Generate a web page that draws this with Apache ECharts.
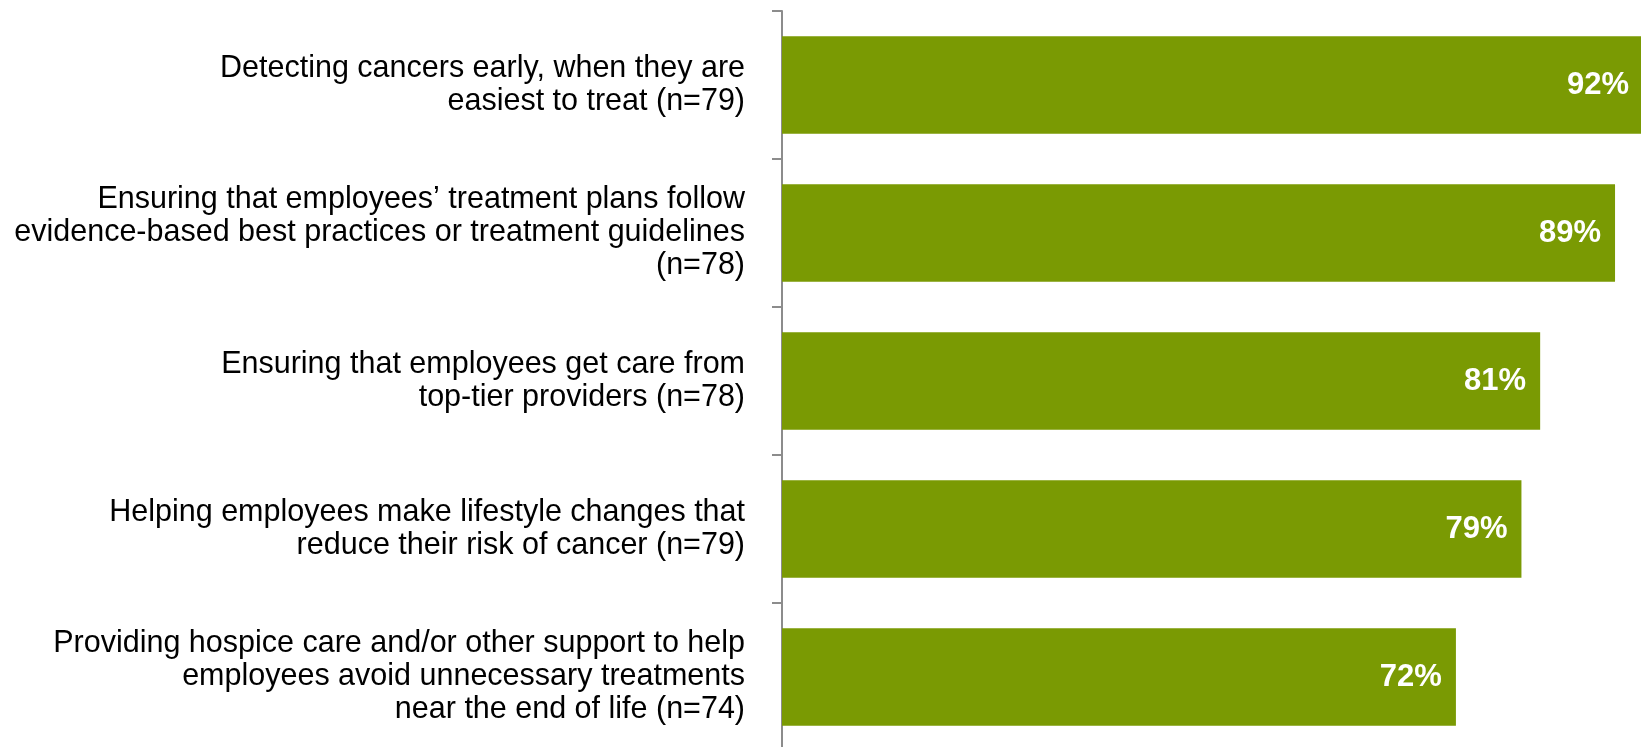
<!DOCTYPE html>
<html>
<head>
<meta charset="utf-8">
<script src="https://cdn.jsdelivr.net/npm/echarts@6/dist/echarts.min.js"></script>
<style>
  html, body { margin: 0; padding: 0; background: #ffffff; }
  #chart { width: 1641px; height: 747px; }
</style>
</head>
<body>
<div id="chart"></div>
<script>
// Priorities in cancer care, share of respondents
const categories = [
  'Detecting cancers early, when they are\neasiest to treat (n=79)',
  'Ensuring that employees\u2019 treatment plans follow\nevidence-based best practices or treatment guidelines\n(n=78)',
  'Ensuring that employees get care from\ntop-tier providers (n=78)',
  'Helping employees make lifestyle changes that\nreduce their risk of cancer (n=79)',
  'Providing hospice care and/or other support to help\nemployees avoid unnecessary treatments\nnear the end of life (n=74)'
];
const values = [92, 89, 81, 79, 72];

const chart = echarts.init(document.getElementById('chart'), null, { renderer: 'canvas' });

chart.setOption({
  animation: false,
  backgroundColor: '#ffffff',
  grid: {
    left: 782, top: 11, height: 740, width: 936,
    containLabel: false,
    outerBoundsMode: 'none'
  },
  xAxis: {
    type: 'value',
    min: 0,
    max: 100,
    show: false
  },
  yAxis: {
    type: 'category',
    inverse: true,
    data: categories,
    boundaryGap: true,
    axisLine: { show: true, lineStyle: { color: '#8c8c8c', width: 2 } },
    axisTick: { show: true, length: 10, lineStyle: { color: '#8c8c8c', width: 2 } },
    axisLabel: {
      margin: 37,
      align: 'right',
      color: '#000000',
      fontFamily: 'Liberation Sans, Arial, sans-serif',
      fontSize: 30.5,
      lineHeight: 33
    },
    splitLine: { show: false }
  },
  series: [{
    type: 'bar',
    data: values,
    barWidth: '66%',
    clip: false,
    itemStyle: { color: '#7a9a03' },
    label: {
      show: true,
      position: 'insideRight',
      distance: 14,
      formatter: '{c}%',
      color: '#ffffff',
      fontFamily: 'Liberation Sans, Arial, sans-serif',
      fontWeight: 'bold',
      fontSize: 31
    }
  }]
});
</script>
</body>
</html>
